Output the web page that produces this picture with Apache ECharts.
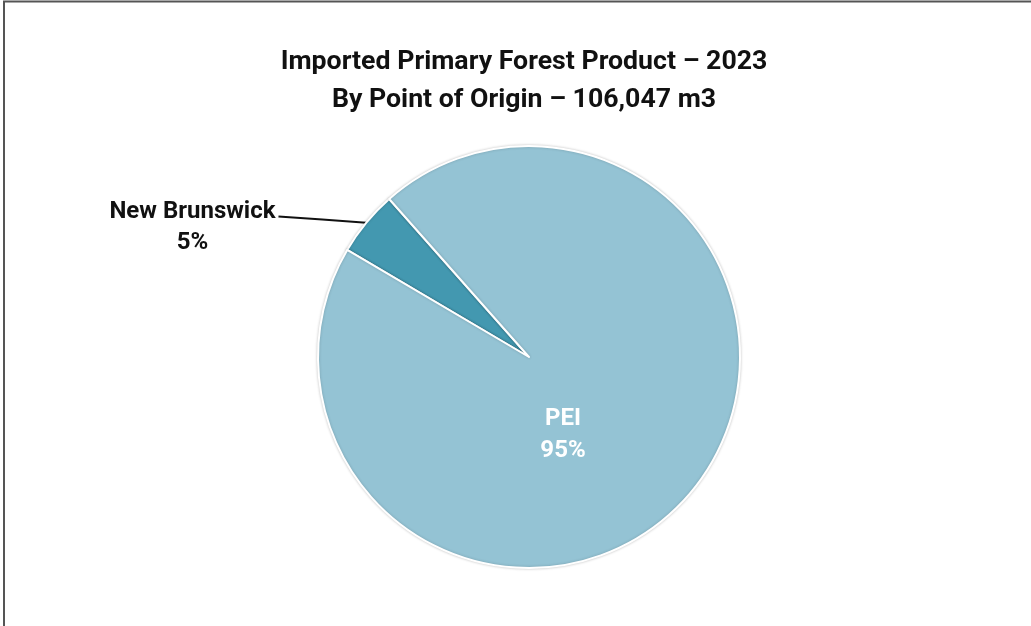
<!DOCTYPE html>
<html>
<head>
<meta charset="utf-8">
<title>Imported Primary Forest Product – 2023</title>
<script src="https://cdn.jsdelivr.net/npm/echarts@6/dist/echarts.min.js"></script>
<style>
  html, body { margin: 0; padding: 0; background: #ffffff; }
  #chart { width: 1031px; height: 626px; }
</style>
</head>
<body>
<div id="chart"></div>
<script>
// Origin of imported primary forest product, share of total volume (%)
const origins = ['New Brunswick', 'PEI'];
const shares = [5, 95];
const sliceColors = ['#4398B0', '#94C3D4'];
const titleLines = ['Imported Primary Forest Product – 2023', 'By Point of Origin – 106,047 m3'];

const FONT = 'Roboto, "Noto Sans", sans-serif';

const chart = echarts.init(document.getElementById('chart'), null, { renderer: 'canvas' });

const pieData = origins.map((name, i) => {
  const item = { name: name, value: shares[i], itemStyle: { color: sliceColors[i] } };
  if (name === 'PEI') {
    item.label = {
      position: 'center',
      color: '#ffffff',
      formatter: '{b}\n{d}%',
      lineHeight: 32
    };
  } else {
    item.label = {
      position: 'outside',
      color: '#111111',
      formatter: '{e| }\n{a|{b}}\n{a|{d}%}',
      rich: {
        e: { lineHeight: 22, fontSize: 10 },
        a: { width: 168, align: 'center', lineHeight: 31, fontSize: 24, fontWeight: 'bold', fontFamily: FONT, color: '#111111' }
      }
    };
    item.labelLine = { show: true, length: 10, length2: 80, lineStyle: { color: '#111111', width: 2 } };
  }
  return item;
});

chart.setOption({
  backgroundColor: '#ffffff',
  animation: false,
  title: {
    text: titleLines.join('\n'),
    left: 524,
    textAlign: 'center',
    top: 43,
    padding: 0,
    textStyle: {
      fontFamily: FONT,
      fontSize: 26.7,
      fontWeight: 'bold',
      color: '#111111',
      lineHeight: 38
    }
  },
  graphic: [{
    type: 'rect',
    silent: true,
    shape: { x: 4, y: 1.5, width: 1100, height: 700 },
    style: { fill: 'none', stroke: '#555555', lineWidth: 2 }
  }],
  series: [{
    type: 'pie',
    center: [529, 357],
    radius: 211,
    startAngle: 149.5,
    clockwise: true,
    percentPrecision: 0,
    avoidLabelOverlap: false,
    itemStyle: {
      borderColor: '#ffffff',
      borderWidth: 2,
      shadowBlur: 3,
      shadowColor: 'rgba(0,0,0,0.2)'
    },
    emphasis: { disabled: true },
    label: {
      fontFamily: FONT,
      fontSize: 24,
      fontWeight: 'bold',
      distanceToLabelLine: 2
    },
    labelLayout: function (params) {
      if (params.dataIndex === 1) {
        // large-slice label sits below and right of the pie centre
        return { dx: 34, dy: 78 };
      }
      // small-slice leader: one straight segment from the rim to the text
      const pts = params.labelLinePoints;
      if (pts && pts.length === 3) {
        const a = pts[0], c = pts[2];
        return { labelLinePoints: [a, [(a[0] + c[0]) / 2, (a[1] + c[1]) / 2], c] };
      }
      return {};
    },
    data: pieData
  }]
});
</script>
</body>
</html>
